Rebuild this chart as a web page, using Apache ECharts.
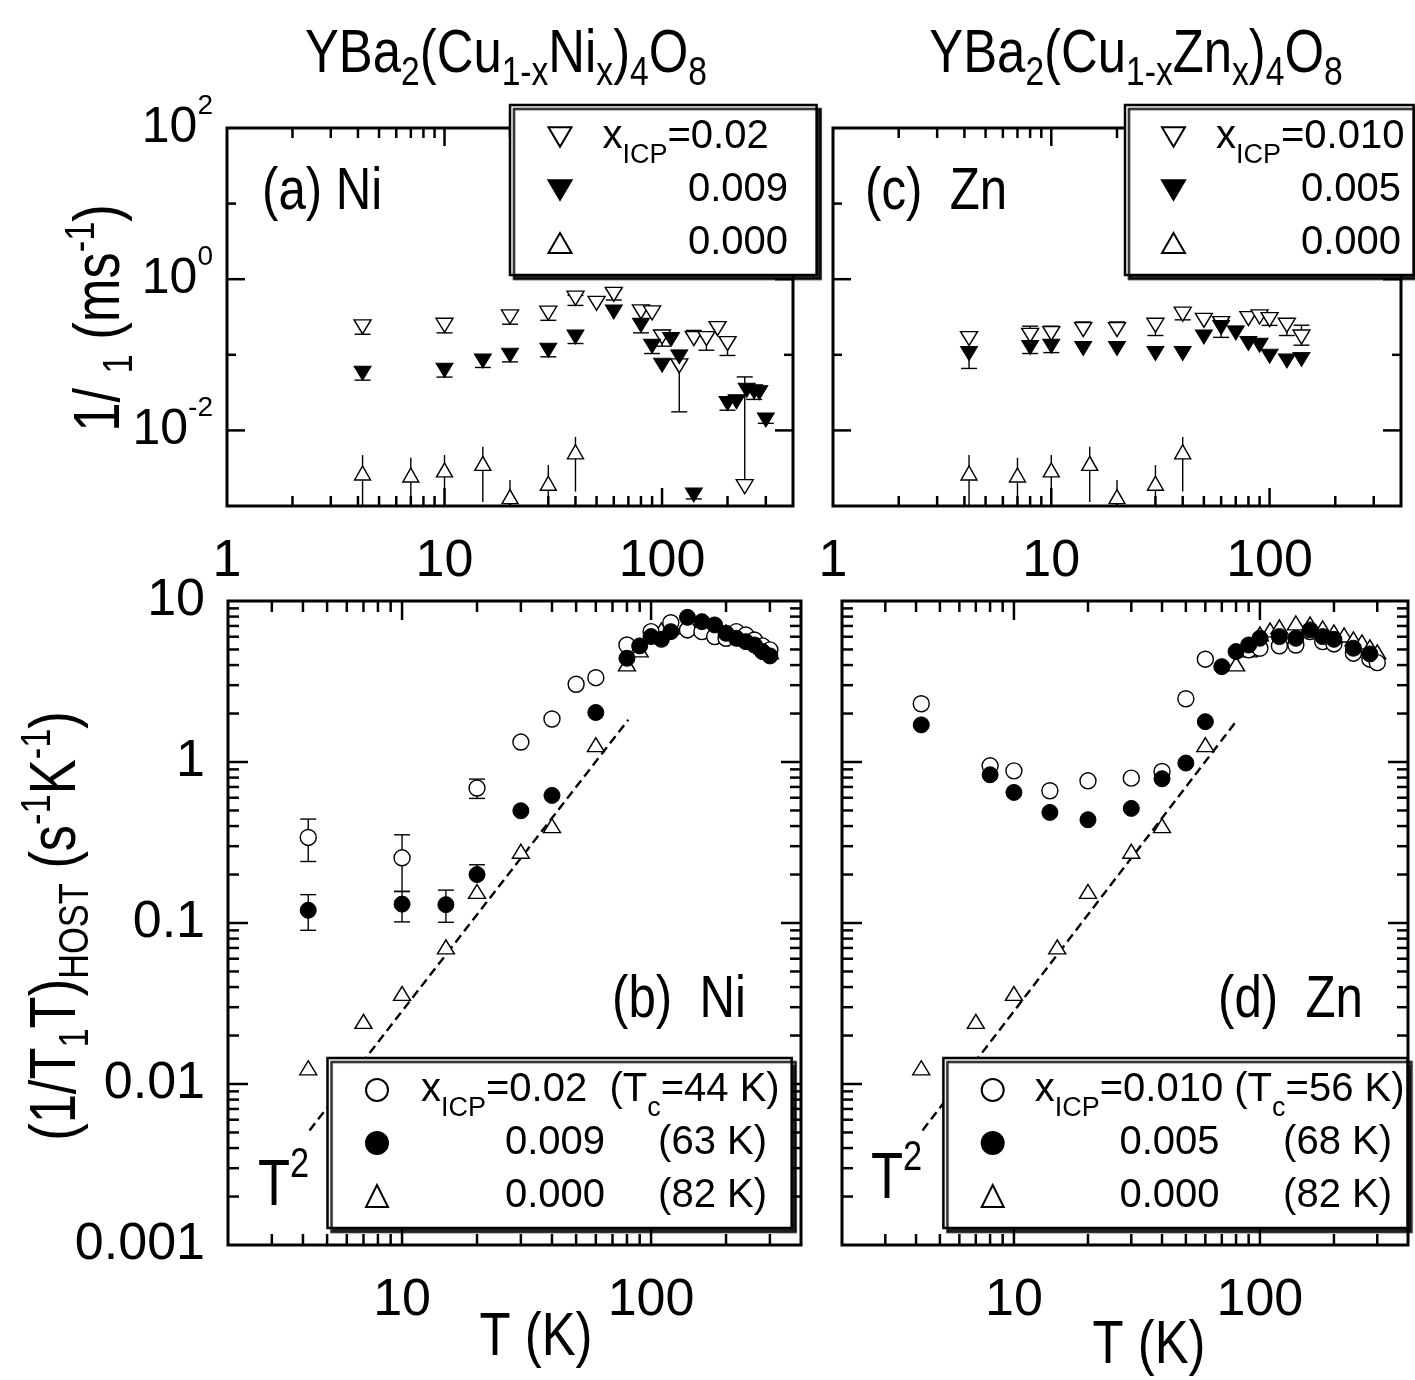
<!doctype html>
<html lang="en">
<head>
<meta charset="UTF-8">
<title>YBa2(Cu1-xMx)4O8 relaxation rates</title>
<script src="https://cdn.jsdelivr.net/npm/echarts@6/dist/echarts.min.js"></script>
<style>
  html, body { margin: 0; padding: 0; background: #fff; }
  #chart { width: 1415px; height: 1380px; }
</style>
</head>
<body>
<div id="chart"></div>
<script>
const FONT = "'Liberation Sans', Arial, sans-serif";
const NARROW = 0.82; // horizontal squeeze for the free texts

// ---- (a) Ni: 1/T1 of the ICP line, ms^-1
const niTopT02 = [4.2, 10, 20, 30, 40, 50, 60, 80, 90, 100, 120, 140, 160, 180, 200, 240];
const niTopR02 = [0.234, 0.246, 0.317, 0.355, 0.56, 0.48, 0.63, 0.37, 0.358, 0.172, 0.0713, 0.164, 0.164, 0.222, 0.141, 0.0018];
const niTopLo02 = [0.187, 0.195, 0.254, 0.286, 0.45, null, 0.53, null, null, 0.13, 0.0176, null, 0.115, null, 0.098, null];
const niTopHi02 = [null, null, null, null, 0.61, null, 0.73, 0.44, null, 0.21, null, 0.21, null, null, 0.172, 0.051];

const niTopT009 = [4.2, 10, 15, 20, 30, 40, 60, 80, 90, 100, 110, 120, 140, 200, 220, 245, 265, 280, 300];
const niTopR009 = [0.0571, 0.0626, 0.083, 0.099, 0.115, 0.172, 0.369, 0.246, 0.130, 0.073, 0.159, 0.094, 0.0014, 0.0227, 0.0239, 0.034, 0.0324, 0.0316, 0.0137];
const niTopLo009 = [0.0462, 0.0507, 0.068, 0.0806, 0.094, 0.141, null, 0.195, 0.104, null, null, null, 0.00124, 0.0185, null, null, 0.0257, null, 0.0124];

// host (x = 0) line, shared by (a) and (c)
const hostTopT = [4.2, 7, 10, 15, 20, 30, 40];
const hostTopR = [0.00273, 0.00257, 0.0030, 0.00366, 0.00133, 0.0020, 0.00521];
const hostTopLo = [0.0008, 0.0008, 0.0008, 0.00113, 0.0008, 0.0008, 0.00155];
const hostTopHi = [0.00472, 0.00434, 0.00472, 0.00607, 0.0022, 0.00348, 0.0082];

// ---- (c) Zn
const znTopT010 = [4.2, 8, 10, 14, 20, 30, 40, 50, 60, 80, 90, 100, 120, 140];
const znTopR010 = [0.164, 0.181, 0.191, 0.216, 0.216, 0.246, 0.344, 0.286, 0.259, 0.302, 0.317, 0.292, 0.246, 0.172];
const znTopLo010 = [null, null, null, null, null, 0.18, 0.29, null, null, null, null, 0.245, 0.18, 0.134];
const znTopHi010 = [0.201, 0.239, 0.239, 0.272, 0.272, null, null, null, null, null, null, null, null, 0.246];

const znTopT005 = [4.2, 8, 10, 14, 20, 30, 40, 50, 60, 70, 80, 90, 100, 120, 140];
const znTopR005 = [0.104, 0.125, 0.130, 0.121, 0.121, 0.104, 0.104, 0.172, 0.230, 0.195, 0.141, 0.134, 0.096, 0.083, 0.087];
const znTopLo005 = [0.066, 0.104, 0.107, null, null, null, null, null, 0.17, null, null, null, null, null, null];
const znTopHi005 = [null, null, null, null, null, null, null, null, 0.30, null, null, null, null, null, null];

// ---- (b) Ni: (1/T1T)HOST, s^-1 K^-1
const niBotT02 = [4.2, 10, 20, 30, 40, 50, 60, 80, 100, 120, 140, 160, 180, 200, 220, 240, 260, 280, 300];
const niBotR02 = [0.340, 0.254, 0.689, 1.33, 1.85, 3.04, 3.34, 5.33, 6.45, 7.33, 6.61, 6.45, 6.01, 5.87, 6.45, 6.15, 5.73, 5.26, 4.97];
const niBotLo02 = [0.241, 0.157, 0.594];
const niBotHi02 = [0.442, 0.353, 0.783];

const niBotT009 = [4.2, 10, 15, 20, 30, 40, 60, 80, 90, 100, 110, 120, 140, 160, 180, 200, 220, 240, 260, 280, 300];
const niBotR009 = [0.120, 0.131, 0.130, 0.200, 0.498, 0.620, 2.03, 4.41, 5.26, 6.01, 5.78, 6.45, 7.92, 7.44, 7.10, 6.30, 5.87, 5.59, 5.33, 4.85, 4.56];
const niBotLo009 = [0.0901, 0.1016, 0.101, null];
const niBotHi009 = [0.150, 0.157, 0.160, 0.230];

// host, shared by (b) and (d)
const hostBotT = [4.2, 7, 10, 15, 20, 30, 40, 60, 80, 90, 100, 110, 120, 140, 160, 180, 200, 220, 240, 260, 280, 300];
const hostBotR = [0.0126, 0.0245, 0.0365, 0.0711, 0.157, 0.279, 0.402, 1.28, 4.07, 4.97, 6.24, 6.61, 6.90, 7.31, 7.20, 6.80, 6.42, 6.15, 5.81, 5.57, 5.19, 4.83];

// ---- (d) Zn
const znBotT010 = [4.2, 8, 10, 14, 20, 30, 40, 50, 60, 90, 100, 120, 140, 160, 180, 200, 240, 280, 300];
const znBotR010 = [2.30, 0.947, 0.881, 0.663, 0.764, 0.794, 0.873, 2.47, 4.35, 4.97, 5.09, 5.26, 5.33, 6.45, 5.59, 5.41, 4.74, 4.35, 4.14];

const znBotT005 = [4.2, 8, 10, 14, 20, 30, 40, 50, 60, 70, 80, 90, 100, 120, 140, 160, 180, 200, 240, 280];
const znBotR005 = [1.70, 0.833, 0.647, 0.486, 0.438, 0.515, 0.787, 0.985, 1.78, 3.91, 4.85, 5.33, 5.87, 6.01, 5.87, 6.61, 6.01, 5.78, 5.09, 4.69];

// T^2 guide line (end points)
const t2LineT = [4.25, 81];
const t2LineR = [0.00515, 1.83];

// legend texts
const legendText = {
  'a02': '{g| }{x|x}{s|ICP}{n|=0.02}',
  'a009': '{g2| }{n|0.009}{s| }',
  'a0': '{g2| }{n|0.000}{s| }',
  'c010': '{g| }{x|x}{s|ICP}{n|=0.010}',
  'c005': '{g2| }{n|0.005}{s| }',
  'c0': '{g2| }{n|0.000}{s| }',
  'b02': '{g| }{x|x}{s|ICP}{n|=0.02  (T}{s|c}{n|=44 K)}',
  'b009': '{g2| }{n|0.009}{g3| }{n|(63 K)}{s| }',
  'b0': '{g2| }{n|0.000}{g3| }{n|(82 K)}{s| }',
  'd010': '{g| }{x|x}{s|ICP}{n|=0.010 (T}{s|c}{n|=56 K)}',
  'd005': '{g2| }{n|0.005}{g3| }{n|(68 K)}{s| }',
  'd0': '{g2| }{n|0.000}{g3| }{n|(82 K)}{s| }'
};

const grids = [
  { left: 227, top: 128, width: 566, height: 378 },  // (a)
  { left: 833, top: 128, width: 568, height: 378 },  // (c)
  { left: 228, top: 601, width: 573, height: 644 },  // (b)
  { left: 842, top: 601, width: 566, height: 644 }   // (d)
];
const xRange = [[1, 400], [1, 400], [2, 400], [2, 400]];
const yRange = [[0.001, 100], [0.001, 100], [0.001, 10], [0.001, 10]];

const chart = echarts.init(document.getElementById('chart'));

function isDecade(v) {
  const e = Math.log10(v);
  return Math.abs(e - Math.round(e)) < 1e-6;
}

function pts(ts, vs) {
  return ts.map((t, i) => [t, vs[i]]);
}

function bars(ts, vs, lo, hi) {
  const out = [];
  ts.forEach((t, i) => {
    const l = lo && lo[i] != null ? lo[i] : vs[i];
    const h = hi && hi[i] != null ? hi[i] : vs[i];
    if (l !== vs[i] || h !== vs[i]) out.push([t, vs[i], l, h]);
  });
  return out;
}

// ticks on all four sides, decades long, 2..9 short
function tickData(i) {
  const [x0, x1] = xRange[i], [y0, y1] = yRange[i];
  const top = i < 2;
  const out = [];
  for (let e = -3; e <= 3; e++) {
    for (let m = 1; m <= 9; m++) {
      const v = m * Math.pow(10, e);
      if (v > x0 * 1.0001 && v < x1 * 0.9999) {
        out.push([v, y0, 0, m === 1 ? (top ? 18 : 19) : (top ? 10 : 11)]);
      }
      if (v > y0 * 1.0001 && v < y1 * 0.9999) {
        if (top) {
          if (m === 1) out.push([x0, v, 1, e % 2 === 0 ? 18 : 9]);
        } else {
          out.push([x0, v, 1, m === 1 ? 20 : 11]);
        }
      }
    }
  }
  return out;
}

function renderTick(params, api) {
  const cs = params.coordSys;
  const p = api.coord([api.value(0), api.value(1)]);
  const len = api.value(3);
  const st = { stroke: '#000', lineWidth: 2.5 };
  let a, b;
  if (api.value(2) === 0) {
    a = { x1: p[0], y1: cs.y + cs.height, x2: p[0], y2: cs.y + cs.height - len };
    b = { x1: p[0], y1: cs.y, x2: p[0], y2: cs.y + len };
  } else {
    a = { x1: cs.x, y1: p[1], x2: cs.x + len, y2: p[1] };
    b = { x1: cs.x + cs.width, y1: p[1], x2: cs.x + cs.width - len, y2: p[1] };
  }
  return { type: 'group', children: [
    { type: 'line', shape: a, style: st },
    { type: 'line', shape: b, style: st }
  ] };
}

function makeErrRender(w) {
  return function (params, api) {
    const t = api.value(0), v = api.value(1), lo = api.value(2), hi = api.value(3);
    const pv = api.coord([t, v]), pl = api.coord([t, lo]), ph = api.coord([t, hi]);
    const x = pv[0];
    const st = { stroke: '#000', lineWidth: 1.4 };
    const ch = [{ type: 'line', shape: { x1: x, y1: pl[1], x2: x, y2: ph[1] }, style: st }];
    if (w > 0 && lo < v) ch.push({ type: 'line', shape: { x1: x - w, y1: pl[1], x2: x + w, y2: pl[1] }, style: st });
    if (w > 0 && hi > v) ch.push({ type: 'line', shape: { x1: x - w, y1: ph[1], x2: x + w, y2: ph[1] }, style: st });
    return { type: 'group', children: ch };
  };
}

const openSym = { color: '#fff', borderColor: '#000', borderWidth: 1.4, opacity: 1 };
const fullSym = { color: '#000', borderColor: '#000', borderWidth: 1, opacity: 1 };

function scatter(name, gi, ts, vs, symbol, rotate, size, style) {
  return {
    type: 'scatter', name: name, xAxisIndex: gi, yAxisIndex: gi,
    data: pts(ts, vs), symbol: symbol, symbolRotate: rotate, symbolSize: size,
    itemStyle: style, z: 3, silent: true
  };
}

function errSeries(gi, ts, vs, lo, hi, capW) {
  return {
    type: 'custom', xAxisIndex: gi, yAxisIndex: gi, data: bars(ts, vs, lo, hi),
    encode: { x: 0, y: 1 }, renderItem: makeErrRender(capW === undefined ? 8 : capW),
    clip: true, silent: true, z: 2
  };
}

const series = [];
[0, 1, 2, 3].forEach(i => {
  series.push({
    type: 'custom', xAxisIndex: i, yAxisIndex: i, data: tickData(i),
    encode: { x: 0, y: 1 }, renderItem: renderTick, silent: true, z: 3
  });
});

const triDown = [17, 14], triUp = [16, 14];
// (a)
series.push(errSeries(0, niTopT02, niTopR02, niTopLo02, niTopHi02));
series.push(errSeries(0, niTopT009, niTopR009, niTopLo009, null));
series.push(errSeries(0, hostTopT, hostTopR, hostTopLo, hostTopHi, 0));
series.push(scatter('a02', 0, niTopT02, niTopR02, 'triangle', 180, triDown, openSym));
series.push(scatter('a009', 0, niTopT009, niTopR009, 'triangle', 180, triDown, fullSym));
series.push(scatter('a0', 0, hostTopT, hostTopR, 'triangle', 0, triUp, openSym));
// (c)
series.push(errSeries(1, znTopT010, znTopR010, znTopLo010, znTopHi010));
series.push(errSeries(1, znTopT005, znTopR005, znTopLo005, znTopHi005));
series.push(errSeries(1, hostTopT, hostTopR, hostTopLo, hostTopHi, 0));
series.push(scatter('c010', 1, znTopT010, znTopR010, 'triangle', 180, triDown, openSym));
series.push(scatter('c005', 1, znTopT005, znTopR005, 'triangle', 180, triDown, fullSym));
series.push(scatter('c0', 1, hostTopT, hostTopR, 'triangle', 0, triUp, openSym));
// (b)
series.push(errSeries(2, niBotT02, niBotR02, niBotLo02, niBotHi02));
series.push(errSeries(2, niBotT009, niBotR009, niBotLo009, niBotHi009));
series.push(scatter('b0', 2, hostBotT, hostBotR, 'triangle', 0, [17, 14], openSym));
series.push(scatter('b02', 2, niBotT02, niBotR02, 'circle', 0, 16, openSym));
series.push(scatter('b009', 2, niBotT009, niBotR009, 'circle', 0, 16, fullSym));
// (d)
series.push(scatter('d0', 3, hostBotT, hostBotR, 'triangle', 0, [17, 14], openSym));
series.push(scatter('d010', 3, znBotT010, znBotR010, 'circle', 0, 16, openSym));
series.push(scatter('d005', 3, znBotT005, znBotR005, 'circle', 0, 16, fullSym));
// T^2 guides
[2, 3].forEach(i => {
  series.push({
    type: 'line', xAxisIndex: i, yAxisIndex: i, data: pts(t2LineT, t2LineR),
    symbol: 'none', silent: true, z: 2,
    lineStyle: { color: '#000', width: 2.4, type: [9, 5] }
  });
});

function decadeLabel(v) {
  return isDecade(v) ? String(Math.round(v)) : '';
}
function powLabel(v) {
  const e = Math.round(Math.log10(v));
  return (isDecade(v) && e % 2 === 0) ? '{n|10}{p|' + e + '}' : '';
}
function plainLabel(v) {
  if (!isDecade(v)) return '';
  const e = Math.round(Math.log10(v));
  return e >= 0 ? String(Math.round(v)) : v.toFixed(-e);
}

const xAxis = [0, 1, 2, 3].map(i => ({
  type: 'log', logBase: 10, gridIndex: i, min: xRange[i][0], max: xRange[i][1],
  axisLine: { show: false }, axisTick: { show: false }, splitLine: { show: false },
  axisLabel: {
    margin: 30, fontSize: 52, lineHeight: 52, fontFamily: FONT, color: '#000',
    formatter: decadeLabel, showMinLabel: true, showMaxLabel: true
  }
}));

const yAxis = [0, 1, 2, 3].map(i => ({
  type: 'log', logBase: 10, gridIndex: i, min: yRange[i][0], max: yRange[i][1],
  axisLine: { show: false }, axisTick: { show: false }, splitLine: { show: false },
  axisLabel: i === 0 ? {
    margin: 14, formatter: powLabel, showMinLabel: true, showMaxLabel: true,
    rich: {
      n: { fontSize: 50, lineHeight: 72, fontFamily: FONT, color: '#000' },
      p: { fontSize: 28, lineHeight: 28, fontFamily: FONT, color: '#000', verticalAlign: 'top' }
    }
  } : i === 2 ? {
    margin: 23, fontSize: 52, lineHeight: 52, fontFamily: FONT, color: '#000',
    formatter: plainLabel, showMinLabel: true, showMaxLabel: true
  } : { show: false }
}));

function legendRich(g, g2, g3) {
  return {
    g: { width: g, fontSize: 12 },
    g2: { width: g2, fontSize: 12 },
    g3: { width: g3 || 0, fontSize: 12 },
    x: { fontSize: 40, lineHeight: 64, fontFamily: FONT, color: '#000' },
    n: { fontSize: 40, lineHeight: 64, fontFamily: FONT, color: '#000' },
    s: { fontSize: 27, lineHeight: 27, fontFamily: FONT, color: '#000', verticalAlign: 'bottom' }
  };
}

const downIcon = 'path://M0,0L20,0L10,17Z';

function legendBox(names, icons, left, top, pad, iw, ih, rich) {
  return {
    data: names.map((n, k) => icons[k] ? { name: n, icon: icons[k] } : { name: n }),
    orient: 'vertical', left: left, top: top, padding: pad,
    itemGap: -11, itemWidth: iw, itemHeight: ih,
    backgroundColor: '#fff', borderColor: '#000', borderWidth: 2.5, borderRadius: 0,
    shadowColor: 'rgba(0,0,0,0.85)', shadowBlur: 1, shadowOffsetX: 4, shadowOffsetY: 4,
    selectedMode: false, formatter: n => legendText[n],
    textStyle: { rich: rich, color: '#000', lineHeight: 64 }, z: 20
  };
}

const legend = [
  legendBox(['a02', 'a009', 'a0'], [downIcon, downIcon, null], 510, 105, [0, 21, 0, 37.5], 23, 20, legendRich(26, 111.5)),
  legendBox(['c010', 'c005', 'c0'], [downIcon, downIcon, null], 1125, 105, [0, 5, 0, 36], 23, 20, legendRich(26, 111)),
  legendBox(['b02', 'b009', 'b0'], [null, null, null], 327.5, 1058, [0, 12, 0, 37.5], 22, 22, legendRich(28, 112, 53)),
  legendBox(['d010', 'd005', 'd0'], [null, null, null], 943.4, 1058, [0, 3, 0, 37.3], 22, 22, legendRich(26, 110.8, 63.5))
];

const titleRich = {
  n: { fontSize: 62, lineHeight: 78, fontFamily: FONT, color: '#000' },
  s: { fontSize: 41, lineHeight: 42, fontFamily: FONT, color: '#000', verticalAlign: 'bottom' },
  p: { fontSize: 40, lineHeight: 40, fontFamily: FONT, color: '#000', verticalAlign: 'top' }
};
const yTitleRich = {
  n: { fontSize: 64, lineHeight: 80, fontFamily: FONT, color: '#000' },
  s: { fontSize: 42, lineHeight: 42, fontFamily: FONT, color: '#000', verticalAlign: 'bottom' },
  p: { fontSize: 42, lineHeight: 42, fontFamily: FONT, color: '#000', verticalAlign: 'top' }
};
const bigRich = {
  n: { fontSize: 60, lineHeight: 60, fontFamily: FONT, color: '#000' }
};
const tRich = {
  n: { fontSize: 64, lineHeight: 86, fontFamily: FONT, color: '#000' },
  p: { fontSize: 42, lineHeight: 42, fontFamily: FONT, color: '#000', verticalAlign: 'top' }
};
const axisNameRich = {
  n: { fontSize: 62, lineHeight: 62, fontFamily: FONT, color: '#000' }
};

function txt(x, y, text, rich, align, rot) {
  return {
    type: 'text', x: x, y: y, rotation: rot || 0, scaleX: NARROW, z: 30, silent: true,
    style: { text: text, rich: rich, align: align || 'center', verticalAlign: 'middle', fill: '#000' }
  };
}

const graphic = [
  txt(506, 55, '{n|YBa}{s|2}{n|(Cu}{s|1-x}{n|Ni}{s|x}{n|)}{s|4}{n|O}{s|8}', titleRich),
  txt(1136, 55, '{n|YBa}{s|2}{n|(Cu}{s|1-x}{n|Zn}{s|x}{n|)}{s|4}{n|O}{s|8}', titleRich),
  txt(262, 192, '{n|(a) Ni}', bigRich, 'left'),
  txt(865, 192, '{n|(c)  Zn}', bigRich, 'left'),
  txt(612, 1000, '{n|(b)  Ni}', bigRich, 'left'),
  txt(1218, 1000, '{n|(d)  Zn}', bigRich, 'left'),
  txt(258, 1187, '{n|T}{p|2}', tRich, 'left'),
  txt(871, 1180, '{n|T}{p|2}', tRich, 'left'),
  txt(536, 1338, '{n|T (K)}', axisNameRich),
  txt(1149, 1346, '{n|T (K)}', axisNameRich),
  txt(101, 318, '{n|1/ }{s|1}{n| (ms}{p|-1}{n|)}', yTitleRich, 'center', Math.PI / 2),
  txt(57, 926, '{n|(1/T}{s|1}{n|T)}{s|HOST}{n| (s}{p|-1}{n|K}{p|-1}{n|)}', yTitleRich, 'center', Math.PI / 2)
];

chart.setOption({
  animation: false,
  backgroundColor: '#fff',
  textStyle: { fontFamily: FONT, color: '#000' },
  grid: grids.map(g => Object.assign({
    show: true, borderColor: '#000', borderWidth: 3, backgroundColor: 'transparent',
    containLabel: false, outerBoundsMode: 'none'
  }, g)),
  xAxis: xAxis,
  yAxis: yAxis,
  legend: legend,
  graphic: graphic,
  series: series
});

window.addEventListener('resize', () => chart.resize());
</script>
</body>
</html>
